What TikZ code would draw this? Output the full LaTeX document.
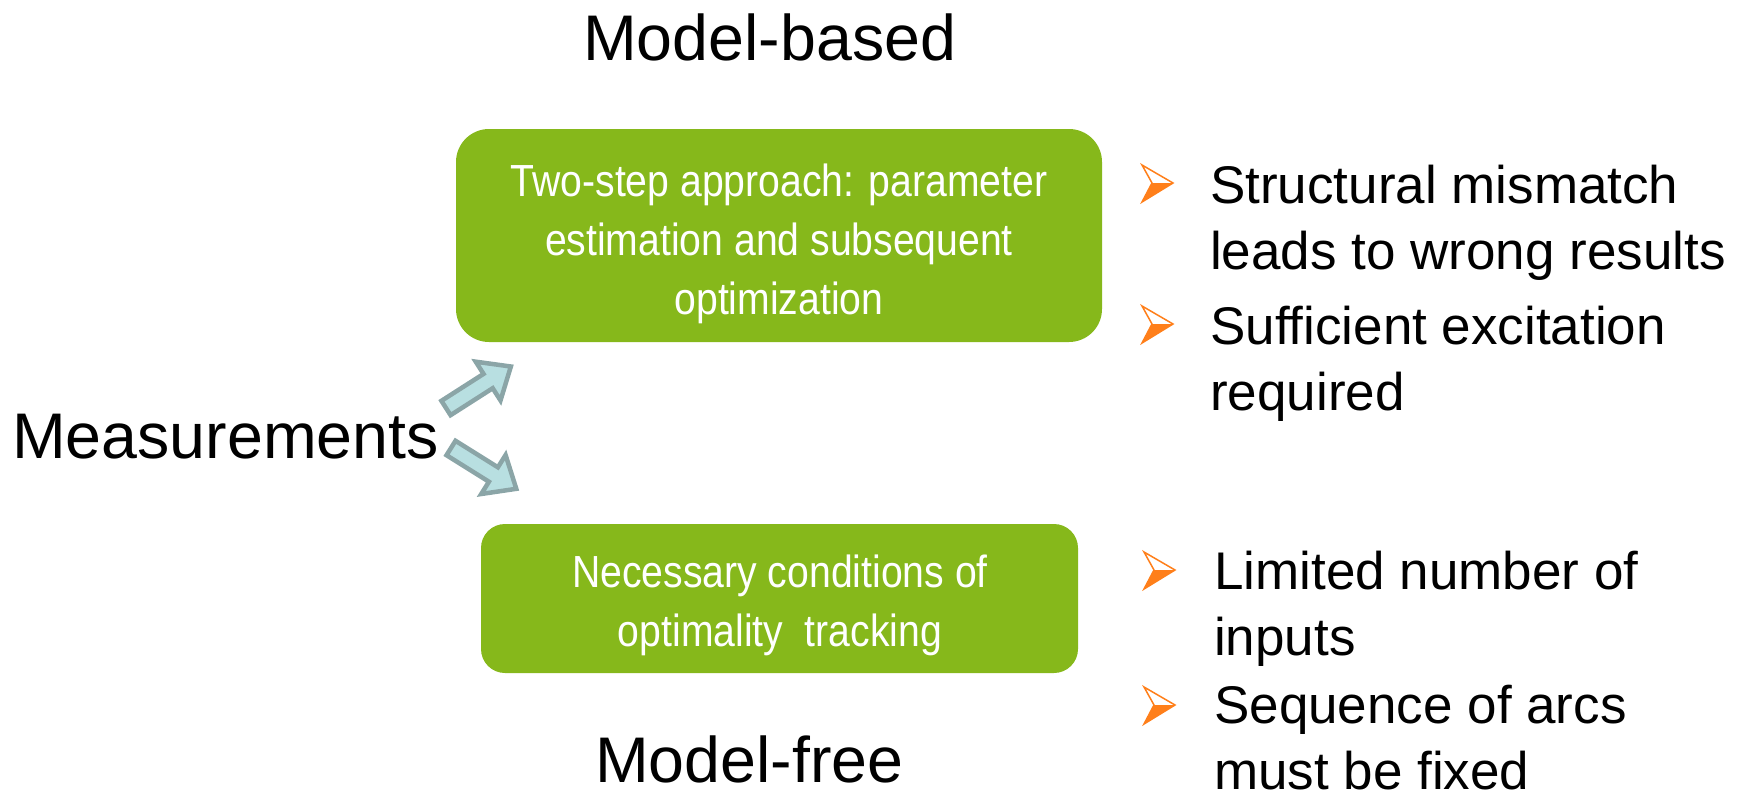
\documentclass[tikz,border=0pt]{standalone}
\usepackage{fontspec}
\setmainfont{Liberation Sans}
\newfontfamily\narrowfont{Liberation Sans}[FakeStretch=0.87]
\definecolor{boxgreen}{HTML}{86B81B}
\definecolor{bulorange}{HTML}{FF7F1A}
\definecolor{arrfill}{HTML}{B8DFE1}
\definecolor{arrdraw}{HTML}{8BA5A7}
\tikzset{
  big/.style={font=\fontsize{64.5}{75}\selectfont, inner sep=0pt, anchor=base west},
  greenbox/.style={fill=boxgreen, draw=none, rounded corners=#1, inner sep=0pt},
  boxtext/.style={text=white, font=\narrowfont\fontsize{45}{59}\selectfont, align=center, inner sep=0pt, anchor=north},
  bultext/.style={font=\fontsize{53}{66}\selectfont, align=left, inner sep=0pt, anchor=north west},
  blockarrow/.style={fill=arrfill, draw=arrdraw, line width=4.5pt, line join=miter},
  pics/bularrow/.style={code={
    \draw[bulorange, line width=1.5pt, line join=miter, fill=white] (-31,-18) -- (0,0) -- (-31,19) -- (-21,0) -- cycle;
    \fill[bulorange] (-21,0) -- (0,0) -- (-31,19) -- cycle;
  }}
}
\begin{document}
\begin{tikzpicture}[x=1pt,y=-1pt]
\useasboundingbox (0,0) rectangle (1746,792);
% titles
\node[big] (mb) at (583,61) {Model-based};
\node[big] (meas) at (12,458) {Measurements};
\node[big] (mf) at (595,782) {Model-free};
% boxes
\node[greenbox=33pt, minimum width=646pt, minimum height=213pt] (box1) at (779,235.5) {};
\node[boxtext] (t1) at (779,164) {Two-step approach: parameter\\estimation and subsequent\\optimization};
\node[greenbox=24pt, minimum width=597pt, minimum height=149pt] (box2) at (779.5,598.5) {};
\node[boxtext] (t2) at (780,555) {Necessary conditions of\\optimality\ \ tracking};
% block arrows
\begin{scope}[shift={(446,408)}, rotate=32.6]
  \path[blockarrow] (0,-8.5) -- (50,-8.5) -- (50,-23) -- (77,0) -- (50,23) -- (50,8.5) -- (0,8.5) -- cycle;
\end{scope}
\begin{scope}[shift={(451,448)}, rotate=-32]
  \path[blockarrow] (0,-8.5) -- (50,-8.5) -- (50,-23) -- (77,0) -- (50,23) -- (50,8.5) -- (0,8.5) -- cycle;
\end{scope}
% bullets
\pic at (1173,183) {bularrow};
\pic at (1173,324) {bularrow};
\pic at (1175,570) {bularrow};
\pic at (1175,705) {bularrow};
\node[bultext] (b1) at (1210,165) {Structural mismatch\\leads to wrong results};
\node[bultext] (b2) at (1210,306) {Sufficient excitation\\required};
\node[bultext] (b3) at (1214,551) {Limited number of\\inputs};
\node[bultext] (b4) at (1214,685) {Sequence of arcs\\must be fixed};
\end{tikzpicture}
\end{document}
